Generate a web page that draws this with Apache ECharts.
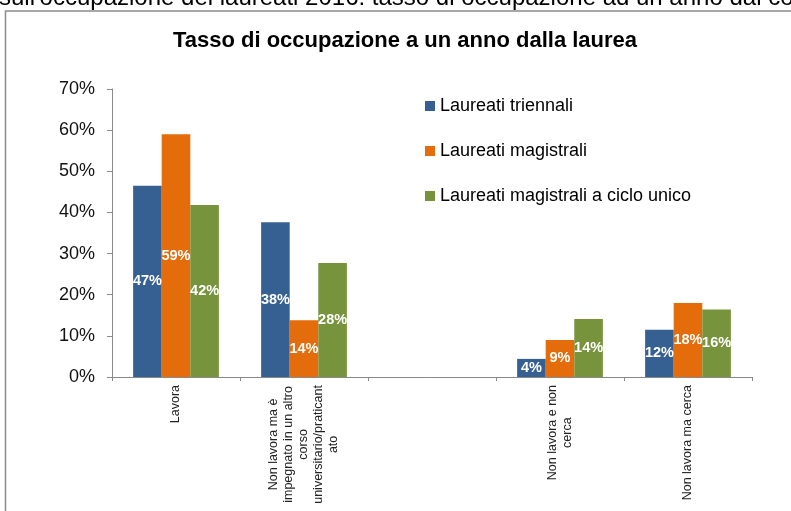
<!DOCTYPE html>
<html>
<head>
<meta charset="utf-8">
<script src="https://cdn.jsdelivr.net/npm/echarts@6/dist/echarts.min.js"></script>
<style>
html, body { margin: 0; padding: 0; background: #fff; }
#main { width: 791px; height: 511px; }
</style>
</head>
<body>
<div id="main"></div>
<script>
// dati
var categorie = ['Lavora', 'Non lavora ma è\nimpegnato in un altro\ncorso\nuniversitario/praticant\nato', '', 'Non lavora e non\ncerca', 'Non lavora ma cerca'];
var triennali = [46.5, 37.6, null, 4.4, 11.5];
var magistrali = [59.0, 13.8, null, 9.0, 18.0];
var cicloUnico = [41.8, 27.7, null, 14.1, 16.4];
var yTicks = [0, 10, 20, 30, 40, 50, 60, 70];

var myChart = echarts.init(document.getElementById('main'));

var font = '"Liberation Sans", Arial, sans-serif';

function serie(nome, dati, colore) {
    return {
        name: nome,
        type: 'bar',
        data: dati,
        barGap: 0,
        barCategoryGap: '33%',
        itemStyle: { color: colore },
        label: {
            show: true,
            position: 'inside',
            color: '#fff',
            fontWeight: 'bold',
            fontSize: 14.5,
            fontFamily: font,
            formatter: function (p) {
                return Math.round(p.value) + '%';
            }
        }
    };
}

var option = {
    animation: false,
    backgroundColor: '#fff',
    title: {
        text: 'Tasso di occupazione a un anno dalla laurea',
        left: 400,
        textAlign: 'center',
        top: 25,
        textStyle: { fontSize: 22, fontWeight: 'bold', color: '#000', fontFamily: font }
    },
    graphic: [
        {
            type: 'text',
            left: -1,
            top: -14,
            style: {
                text: "sull'occupazione dei laureati 2016: tasso di occupazione ad un anno dal corso",
                font: '24px ' + font,
                fill: '#000'
            }
        },
        {
            type: 'rect',
            shape: { x: 5.5, y: 11, width: 900, height: 600 },
            style: { fill: 'none', stroke: '#8c8c8c', lineWidth: 1.5 }
        }
    ],
    legend: {
        orient: 'vertical',
        left: 420,
        top: 92,
        itemWidth: 10,
        itemHeight: 10,
        itemGap: 27,
        icon: 'rect',
        textStyle: { fontSize: 18, color: '#000', fontFamily: font },
        data: ['Laureati triennali', 'Laureati magistrali', 'Laureati magistrali a ciclo unico']
    },
    grid: { left: 112, right: 39, top: 89, bottom: 134, containLabel: false },
    xAxis: {
        type: 'category',
        data: categorie,
        axisLine: { lineStyle: { color: '#8a8a8a', width: 1 } },
        axisTick: { show: true, length: 4, lineStyle: { color: '#8a8a8a' } },
        axisLabel: {
            interval: 0,
            rotate: 90,
            margin: 8,
            color: '#222',
            fontFamily: font,
            fontSize: 12.5,
            lineHeight: 15,
            formatter: function (v) {
                if (!v) return '';
                return v.split('\n').map(function (r) { return '{c|' + r + '}'; }).join('\n');
            },
            rich: {
                c: { align: 'center', fontSize: 12.5, lineHeight: 15, color: '#222', fontFamily: font }
            }
        }
    },
    yAxis: {
        type: 'value',
        min: yTicks[0],
        max: yTicks[yTicks.length - 1],
        interval: 10,
        splitLine: { show: false },
        axisLine: { show: true, lineStyle: { color: '#8a8a8a', width: 1 } },
        axisTick: { show: true, length: 5, lineStyle: { color: '#8a8a8a' } },
        axisLabel: {
            formatter: '{value}%',
            fontSize: 18,
            color: '#111',
            fontFamily: font,
            margin: 17
        }
    },
    series: [
        serie('Laureati triennali', triennali, '#376092'),
        serie('Laureati magistrali', magistrali, '#E46C0A'),
        serie('Laureati magistrali a ciclo unico', cicloUnico, '#77933C')
    ]
};

myChart.setOption(option);
</script>
</body>
</html>
